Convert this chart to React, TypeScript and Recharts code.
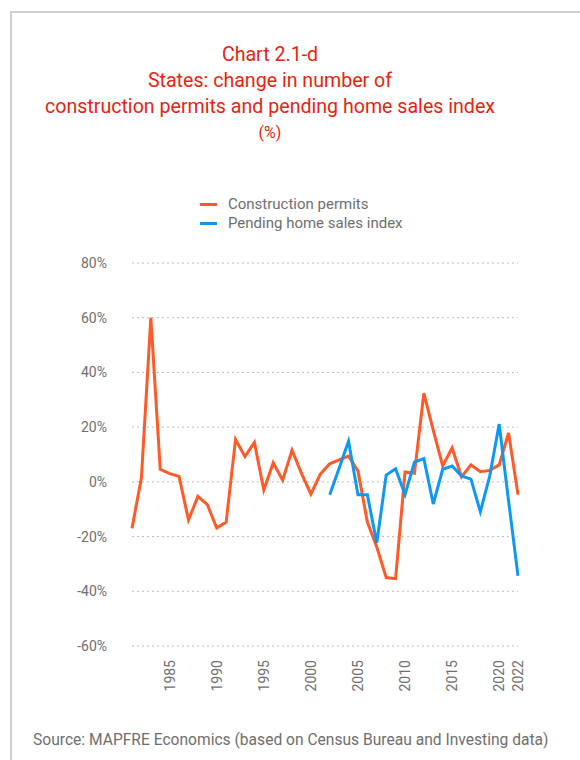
import { LineChart, Line, XAxis, YAxis, CartesianGrid } from "recharts";

const years = [
  1981, 1982, 1983, 1984, 1985, 1986, 1987, 1988, 1989, 1990, 1991, 1992, 1993, 1994,
  1995, 1996, 1997, 1998, 1999, 2000, 2001, 2002, 2003, 2004, 2005, 2006, 2007, 2008,
  2009, 2010, 2011, 2012, 2013, 2014, 2015, 2016, 2017, 2018, 2019, 2020, 2021, 2022,
];

const permits = [
  -17, 1.5, 60, 4.6, 3, 2, -13.9, -5.3, -8.3, -16.9, -14.7, 15.5, 9.2, 14.4,
  -3, 7, 0.6, 11.6, 3.1, -4.5, 2.8, 6.6, 8, 9.4, 4, -14.7, -23.8, -35,
  -35.4, 3.6, 3.1, 32.4, 18.8, 5.8, 12.4, 1.8, 6.2, 3.7, 4.2, 6.2, 17.9, -4.7,
];

const pending = [
  null, null, null, null, null, null, null, null, null, null, null, null, null, null,
  null, null, null, null, null, null, null, -4.7, 5, 14.9, -4.7, -4.7, -22.3, 2.5,
  4.8, -4.7, 7.2, 8.5, -8.1, 4.6, 5.8, 2.2, 1.0, -10.9, 2.2, 21.1, -7, -34.3,
];

const xTicks = [1985, 1990, 1995, 2000, 2005, 2010, 2015, 2020, 2022];
const yTicks = [-60, -40, -20, 0, 20, 40, 60, 80];

const data = years.map((year, i) => ({ year, permits: permits[i], pending: pending[i] }));

const ORANGE = "#ff5a28";
const BLUE = "#0d98f6";
const GREY = "#6e6e6e";
const FONT = "Roboto, sans-serif";

function YearTick(props: any) {
  const { x, y, payload } = props;
  return (
    <text
      x={x}
      y={y + 6}
      dy="0.35em"
      transform={`rotate(-90, ${x}, ${y + 6})`}
      textAnchor="end"
      fill={GREY}
      fontSize={14}
      fontFamily={FONT}
    >
      {payload.value}
    </text>
  );
}

export default function App() {
  return (
    <div style={{ position: "absolute", left: 0, top: 0, width: 580, height: 760, background: "#fff", fontFamily: FONT, overflow: "hidden" }}>
      <div style={{ position: "absolute", left: 10, top: 11, width: 580, height: 760, borderTop: "2px solid #cfcfcf", borderLeft: "2px solid #cfcfcf" }} />
      <div style={{ position: "absolute", left: 10, top: 42, width: 520, textAlign: "center", color: "#e8230f", fontSize: 19.6, lineHeight: "26px" }}>
        <div>Chart 2.1-d</div>
        <div>States: change in number of</div>
        <div>construction permits and pending home sales index</div>
        <div style={{ fontSize: 16 }}>(%)</div>
      </div>
      <div style={{ position: "absolute", left: 200, top: 195, color: GREY, fontSize: 15, lineHeight: "19px" }}>
        <div style={{ display: "flex", alignItems: "center" }}>
          <span style={{ width: 17, height: 3, background: ORANGE, marginRight: 11 }} />
          Construction permits
        </div>
        <div style={{ display: "flex", alignItems: "center" }}>
          <span style={{ width: 17, height: 3, background: BLUE, marginRight: 11 }} />
          Pending home sales index
        </div>
      </div>
      <div style={{ position: "absolute", left: 0, top: 240 }}>
        <LineChart width={580} height={480} data={data} margin={{ top: 23, right: 62, bottom: 34, left: 32 }}>
          <CartesianGrid vertical={false} stroke="#bdbdbd" strokeDasharray="2 3" />
          <XAxis
            dataKey="year"
            type="number"
            domain={[1981, 2022]}
            ticks={xTicks}
            interval={0}
            axisLine={false}
            tickLine={false}
            height={40}
            tick={<YearTick />}
          />
          <YAxis
            domain={[-60, 80]}
            ticks={yTicks}
            axisLine={false}
            tickLine={false}
            tickSize={0}
            tickMargin={25}
            width={100}
            tickFormatter={(v) => `${v}%`}
            tick={{ fill: GREY, fontSize: 14, fontFamily: FONT }}
          />
          <Line dataKey="permits" stroke={ORANGE} strokeWidth={3} dot={false} isAnimationActive={false} />
          <Line dataKey="pending" stroke={BLUE} strokeWidth={3} dot={false} isAnimationActive={false} />
        </LineChart>
      </div>
      <div style={{ position: "absolute", left: 33, top: 731, color: GREY, fontSize: 15.6, whiteSpace: "nowrap" }}>
        Source: MAPFRE Economics (based on Census Bureau and Investing data)
      </div>
    </div>
  );
}
